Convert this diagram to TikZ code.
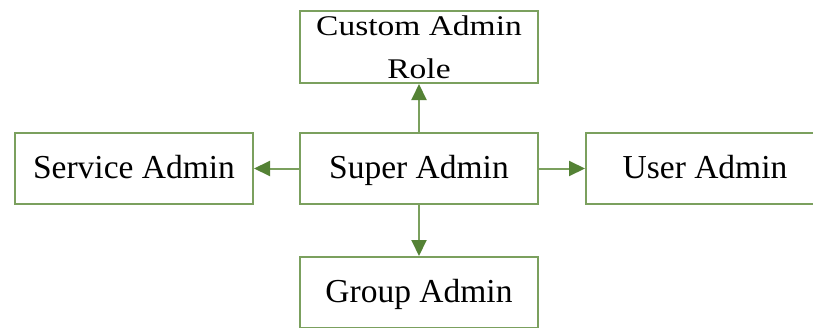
\documentclass[tikz,border=0pt]{standalone}
\usepackage{fontspec}
\setmainfont{Liberation Serif}
\usetikzlibrary{arrows.meta}
\definecolor{boxline}{HTML}{7BA05E}
\definecolor{arrowgreen}{HTML}{548235}
\begin{document}
\begin{tikzpicture}[x=1pt,y=-1pt,
  role/.style={draw=boxline, line width=2pt, minimum width=238pt,
    minimum height=71pt, inner sep=0pt,
    font=\fontsize{33.5}{40}\selectfont, text height=22pt, text depth=2pt},
  link/.style={draw=boxline, line width=2pt,
    -{Triangle[length=16pt,width=15pt,color=arrowgreen]}}]
  \useasboundingbox (0,0) rectangle (813,327);
  \clip (0,0) rectangle (813,327);

  % admin roles
  \node[role] (super) at (419,168.5) {Super Admin};
  \node[role, text height=62pt, text depth=0pt, minimum height=72pt]
    (custom) at (419,47)
    {\scalebox{1}[0.85]{\parbox[b]{230pt}{\centering
      \fontsize{33.5}{49.5}\selectfont Custom Admin\\Role}}};
  \node[role] (service) at (134,168.5) {Service Admin};
  \node[role] (user) at (705,168.5) {User Admin};
  \node[role] (group) at (419,292.5) {Group Admin};

  % delegation arrows from the super admin
  \draw[link] (super.north) -- (custom.south);
  \draw[link] (super.west) -- (service.east);
  \draw[link] (super.east) -- (user.west);
  \draw[link] (super.south) -- (group.north);
\end{tikzpicture}
\end{document}
